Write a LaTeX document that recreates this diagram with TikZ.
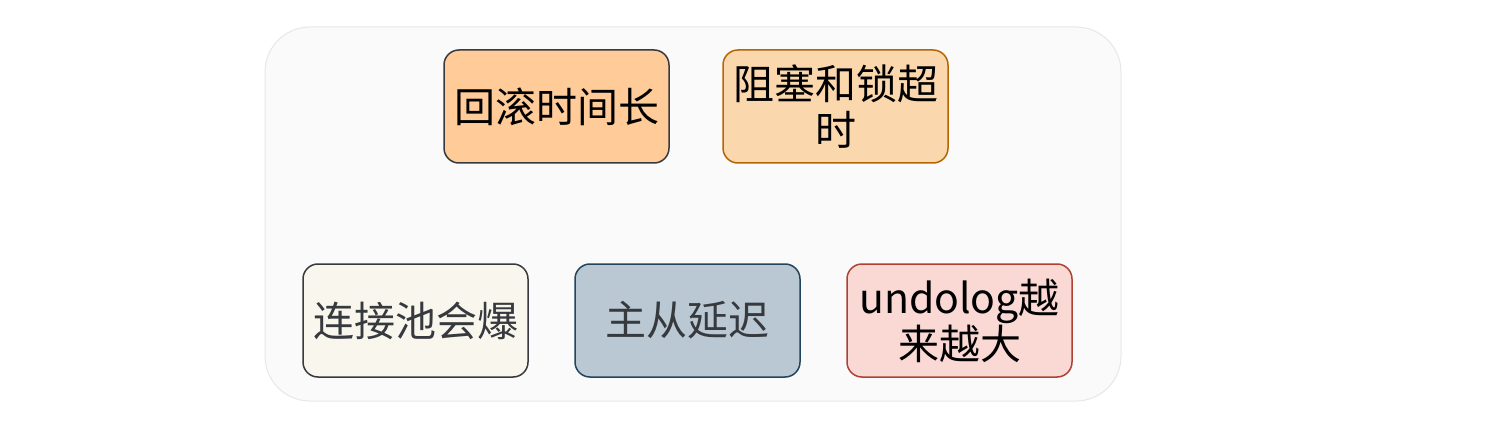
\documentclass[tikz,border=0pt]{standalone}
\usepackage{fontspec}
\setmainfont{Noto Sans CJK SC}
\usepackage{tikz}
\definecolor{panelfill}{HTML}{F9FAF9}
\definecolor{paneldraw}{HTML}{E6E8E6}
\definecolor{darkline}{HTML}{36393D}
\definecolor{orangefill}{HTML}{FFCC99}
\definecolor{peachfill}{HTML}{FAD7AC}
\definecolor{peachline}{HTML}{B46504}
\definecolor{creamfill}{HTML}{F9F7ED}
\definecolor{slatefill}{HTML}{BAC8D3}
\definecolor{slateline}{HTML}{23445D}
\definecolor{rosefill}{HTML}{FAD9D5}
\definecolor{roseline}{HTML}{AE4132}
\tikzset{panel/.style={rectangle,rounded corners=45pt,draw=paneldraw,fill=panelfill,
 line width=1pt},
 issue/.style={rectangle,rounded corners=15pt,draw=darkline,fill=orangefill,
 line width=1.5pt,minimum width=225pt,minimum height=113pt,inner sep=2pt,
 text width=221pt,align=center,text=black,font=\fontsize{41}{46}\selectfont},
 timeout/.style={issue,draw=peachline,fill=peachfill},
 pool/.style={issue,fill=creamfill,text=darkline},
 lag/.style={issue,draw=slateline,fill=slatefill,text=darkline},
 undo/.style={issue,draw=roseline,fill=rosefill}}

\begin{document}
\begin{tikzpicture}[x=1pt,y=-1pt]
 \useasboundingbox[fill=white] (0,0) rectangle (1486,425);
 \draw[panel] (265,27) rectangle (1121,401);
 % top row
 \node[issue] (rollback) at (556.5,106.5) {回滚时间长};
 \node[timeout] (locks) at (835.5,106.5) {阻塞和锁超\\时};
 % bottom row
 \node[pool] (pool) at (415.5,320.5) {连接池会爆};
 \node[lag] (lag) at (687.5,320.5) {主从延迟};
 \node[undo] (undolog) at (959.5,320.5) {undolog越\\来越大};
\end{tikzpicture}
\end{document}
